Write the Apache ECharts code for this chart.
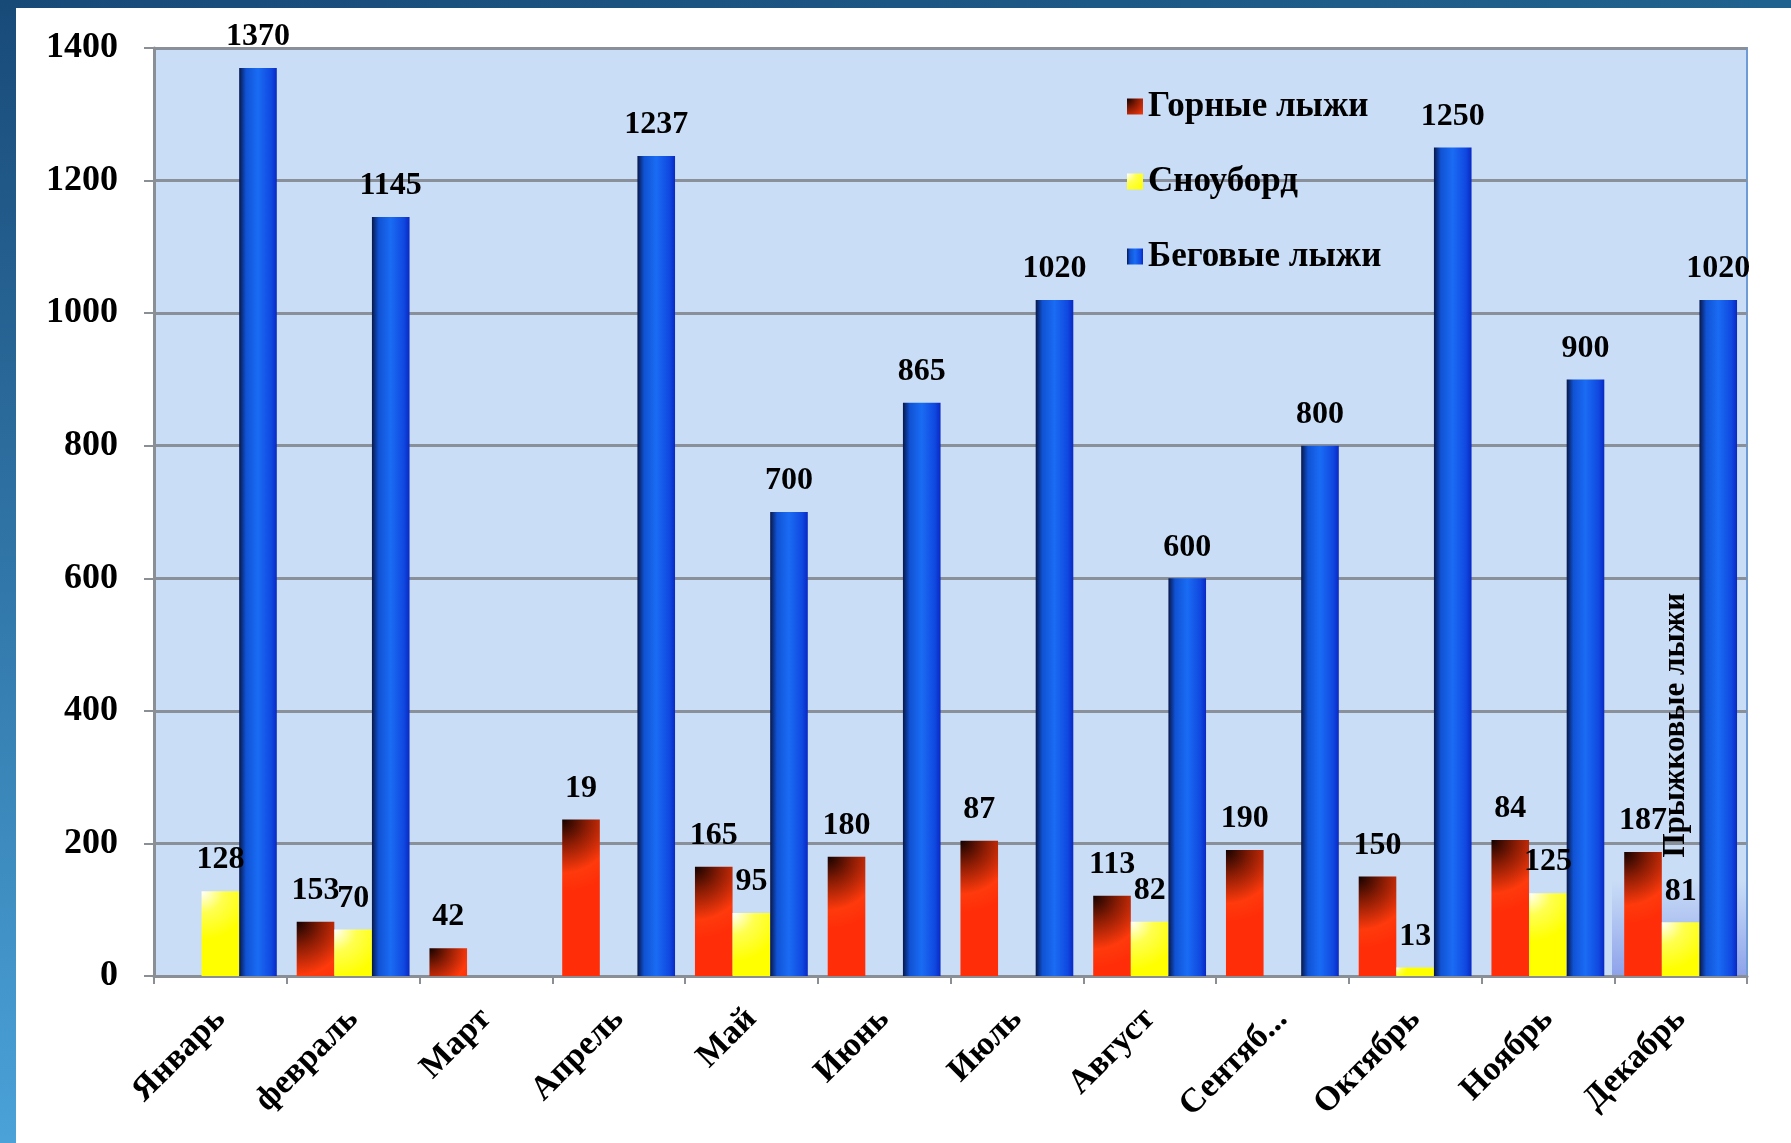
<!DOCTYPE html>
<html>
<head>
<meta charset="utf-8">
<script src="https://cdn.jsdelivr.net/npm/echarts@6/dist/echarts.min.js"></script>
<style>
html,body{margin:0;padding:0;background:#fff;}
#chart{width:1791px;height:1143px;}
</style>
</head>
<body>
<div id="chart"></div>
<script>
const categories = ['Январь','февраль','Март','Апрель','Май','Июнь','Июль','Август','Сентяб...','Октябрь','Ноябрь','Декабрь'];
const seriesNames = ['Горные лыжи','Сноуборд','Беговые лыжи'];
// bar heights
const alpineValues = [null, 82, 42, 236, 165, 180, 204, 121, 190, 150, 205, 187];
const snowboardValues = [128, 70, null, null, 95, null, null, 82, null, 13, 125, 81];
const crossValues = [1370, 1145, null, 1237, 700, 865, 1020, 600, 800, 1250, 900, 1020];
// data label texts as printed in the picture
const alpineLabels = ['', '153', '42', '19', '165', '180', '87', '113', '190', '150', '84', '187'];
const snowboardLabels = ['128', '70', '', '', '95', '', '', '82', '', '13', '125', '81'];
const crossLabels = ['1370', '1145', '', '1237', '700', '865', '1020', '600', '800', '1250', '900', '1020'];
const extraLabel = 'Прыжковые лыжи';
const yMin = 0, yMax = 1400, yStep = 200;

const FONT = "'Liberation Serif','DejaVu Serif',serif";
const chart = echarts.init(document.getElementById('chart'), null, {renderer:'canvas'});

const redFill = new echarts.graphic.RadialGradient(0, 0, 1.9, [
  {offset:0, color:'#140200'},
  {offset:0.35, color:'#8a1c04'},
  {offset:0.75, color:'#ff3a0c'},
  {offset:1, color:'#ff2e08'}
]);
const yellowFill = new echarts.graphic.RadialGradient(0, 0, 1.3, [
  {offset:0, color:'#ffffff'},
  {offset:0.45, color:'#ffff50'},
  {offset:1, color:'#ffff00'}
]);
const blueFill = new echarts.graphic.LinearGradient(0, 0, 1, 0, [
  {offset:0, color:'#081848'},
  {offset:0.18, color:'#1052d4'},
  {offset:0.5, color:'#1a6cf4'},
  {offset:0.85, color:'#1048e0'},
  {offset:1, color:'#0a28c4'}
]);

function lbl(arr){
  return {
    show:true, position:'top', distance:15,
    fontFamily:FONT, fontWeight:'bold', fontSize:32, color:'#000',
    formatter: p => arr[p.dataIndex]
  };
}

const option = {
  animation:false,
  backgroundColor:'#ffffff',
  graphic:[
    {type:'rect', left:0, top:0, z:-10, shape:{width:1791, height:8},
     style:{fill:new echarts.graphic.LinearGradient(0,0,1,0,[{offset:0,color:'#184a78'},{offset:1,color:'#20628f'}])}},
    {type:'rect', left:0, top:0, z:-10, shape:{width:16, height:1143},
     style:{fill:new echarts.graphic.LinearGradient(0,0,0,1,[{offset:0,color:'#184a78'},{offset:1,color:'#4aa2d8'}])}},
    {type:'rect', left:1612, top:880, z:1, silent:true, shape:{width:134, height:95},
     style:{fill:new echarts.graphic.LinearGradient(0,0,0,1,[{offset:0,color:'rgba(80,100,230,0)'},{offset:1,color:'rgba(70,90,220,0.45)'}])}},
    {type:'text', left:1660, top:593, rotation:Math.PI/2, z:20,
     style:{text:extraLabel, fontFamily:FONT, fontWeight:'bold', fontSize:31, fill:'#000'}}
  ],
  grid:{left:154, right:44, top:48, bottom:167, show:true, backgroundColor:'#c9ddf6', borderColor:'#6d9bd6', borderWidth:2},
  legend:{
    orient:'vertical', left:1122, top:84, itemWidth:16, itemHeight:16, itemGap:40,
    icon:'rect', data:seriesNames,
    textStyle:{fontFamily:FONT, fontWeight:'bold', fontSize:35, color:'#000'}
  },
  xAxis:{
    type:'category', data:categories,
    axisLine:{show:true, lineStyle:{color:'#8a8f96', width:3}},
    axisTick:{show:true, length:8, lineStyle:{color:'#8a8f96', width:2}},
    axisLabel:{interval:0, rotate:45, margin:38, fontFamily:FONT, fontWeight:'bold', fontSize:34, color:'#000'}
  },
  yAxis:{
    type:'value', min:yMin, max:yMax, interval:yStep,
    axisLine:{show:true, lineStyle:{color:'#8a8f96', width:3}},
    axisTick:{show:true, length:10, lineStyle:{color:'#8a8f96', width:2}},
    splitLine:{show:true, lineStyle:{color:'#8a9099', width:3}},
    axisLabel:{margin:36, fontFamily:FONT, fontWeight:'bold', fontSize:36, color:'#000', formatter: v => String(v)}
  },
  series:[
    {name:seriesNames[0], type:'bar', data:alpineValues, barGap:'0%', barCategoryGap:'15%',
     itemStyle:{color:redFill}, label:lbl(alpineLabels)},
    {name:seriesNames[1], type:'bar', data:snowboardValues, barGap:'0%', barCategoryGap:'15%',
     itemStyle:{color:yellowFill}, label:lbl(snowboardLabels)},
    {name:seriesNames[2], type:'bar', data:crossValues, barGap:'0%', barCategoryGap:'15%',
     itemStyle:{color:blueFill}, label:lbl(crossLabels)}
  ]
};
chart.setOption(option);
</script>
</body>
</html>
